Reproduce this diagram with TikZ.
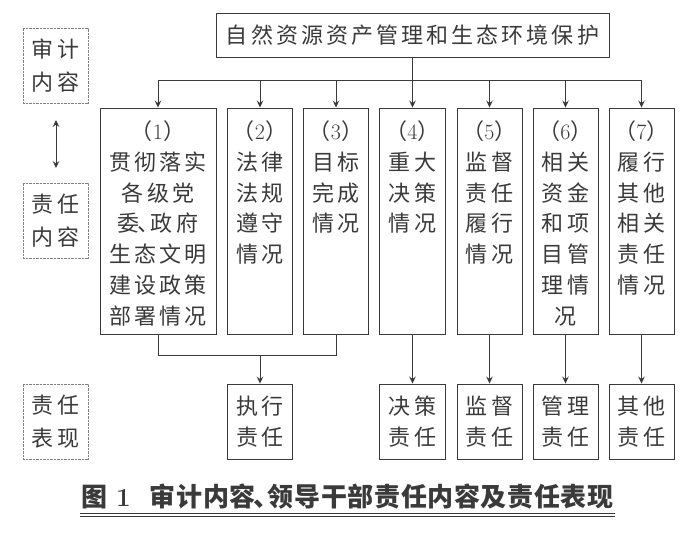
\documentclass[tikz,border=0pt]{standalone}
\usepackage{fontspec}
\newfontfamily\cjk[LetterSpace=14]{Noto Sans CJK SC}
\newfontfamily\cjkcap[LetterSpace=2.5]{Noto Sans CJK SC}
\usetikzlibrary{arrows.meta}
\definecolor{ink}{HTML}{3A3A3A}
\begin{document}
\begin{tikzpicture}[x=1pt,y=-1pt,
  box/.style={draw=ink, line width=0.9pt, inner sep=0pt},
  txt/.style={text=ink, font=\cjk\fontsize{22}{30.8}\selectfont, align=center, inner sep=0pt},
  lab/.style={draw=gray, dash pattern=on 0.7pt off 0.7pt, line width=0.8pt, minimum width=65pt, minimum height=75pt, inner sep=0pt, text=ink, font=\cjk\fontsize{22}{33}\selectfont, align=center},
  tip/.tip={Stealth[length=7pt,width=6.5pt,inset=2.5pt]},
  arr/.style={draw=ink, line width=0.9pt, -tip},
  ln/.style={draw=ink, line width=0.9pt}]
\fill[white] (0,0) rectangle (700,532);
\useasboundingbox (0,0) rectangle (700,532);

% top box
\node[box, txt, minimum width=393pt, minimum height=44pt] (top) at (412.5,35) {自然资源资产管理和生态环境保护};

% content boxes
\node[box, minimum width=116pt, minimum height=226pt] (b1) at (158,221) {};
\node[box, minimum width=65pt, minimum height=226pt] (b2) at (260,221) {};
\node[box, minimum width=65pt, minimum height=226pt] (b3) at (336,221) {};
\node[box, minimum width=66pt, minimum height=226pt] (b4) at (412.5,221) {};
\node[box, minimum width=65pt, minimum height=226pt] (b5) at (489.5,221) {};
\node[box, minimum width=65pt, minimum height=226pt] (b6) at (565.5,221) {};
\node[box, minimum width=65pt, minimum height=226pt] (b7) at (641.5,221) {};

\node[txt, anchor=north] (t1) at ([yshift=-13pt]b1.north) {（{\rmfamily 1}）\\贯彻落实\\各级党\\委\kern-2pt、\kern-9pt政府\\生态文明\\建设政策\\部署情况};
\node[txt, anchor=north] (t2) at ([yshift=-13pt]b2.north) {（{\rmfamily 2}）\\法律\\法规\\遵守\\情况};
\node[txt, anchor=north] (t3) at ([yshift=-13pt]b3.north) {（{\rmfamily 3}）\\目标\\完成\\情况};
\node[txt, anchor=north] (t4) at ([yshift=-13pt]b4.north) {（{\rmfamily 4}）\\重大\\决策\\情况};
\node[txt, anchor=north] (t5) at ([yshift=-13pt]b5.north) {（{\rmfamily 5}）\\监督\\责任\\履行\\情况};
\node[txt, anchor=north] (t6) at ([yshift=-13pt]b6.north) {（{\rmfamily 6}）\\相关\\资金\\和项\\目管\\理情\\况};
\node[txt, anchor=north] (t7) at ([yshift=-13pt]b7.north) {（{\rmfamily 7}）\\履行\\其他\\相关\\责任\\情况};

% result boxes
\node[box, txt, minimum width=65pt, minimum height=75pt] (r2) at (260,421.5) {执行\\责任};
\node[box, txt, minimum width=66pt, minimum height=75pt] (r4) at (412.5,421.5) {决策\\责任};
\node[box, txt, minimum width=65pt, minimum height=75pt] (r5) at (489.5,421.5) {监督\\责任};
\node[box, txt, minimum width=65pt, minimum height=75pt] (r6) at (565.5,421.5) {管理\\责任};
\node[box, txt, minimum width=65pt, minimum height=75pt] (r7) at (641.5,421.5) {其他\\责任};

% left labels
\node[lab] (L1) at (55.5,65.5) {审计\\内容};
\node[lab] (L2) at (55.5,220.5) {责任\\内容};
\node[lab] (L3) at (55.5,421.5) {责任\\表现};
\coordinate (da) at (56,120);
\coordinate (db) at (56,168);
\draw[ln, tip-tip] (da) -- (db);

% bus from top
\coordinate (bus) at (412.5,80);
\draw[ln] (b1.north |- bus) -- (b7.north |- bus);
\draw[arr] (top.south) -- (b4.north);
\foreach \b in {b1,b2,b3,b5,b6,b7} \draw[arr] (\b.north |- bus) -- (\b.north);

% bottom connectors
\coordinate (j) at (260,355);
\draw[ln] (b1.south) -- (b1.south |- j) -- (b3.south |- j) -- (b3.south);
\draw[arr] (j) -- (r2.north);
\draw[arr] (b4.south) -- (r4.north);
\draw[arr] (b5.south) -- (r5.north);
\draw[arr] (b6.south) -- (r6.north);
\draw[arr] (b7.south) -- (r7.north);

% caption
\node[anchor=west, text=ink, font=\cjkcap\bfseries\fontsize{26}{26}\selectfont, inner sep=0pt] (cap) at (81,497) {图\hspace{9pt}{\rmfamily\bfseries 1}\hspace{19pt}审计内容\kern-2pt、\kern-12pt领导干部责任内容及责任表现};
\draw[ln] (80,513) -- (615,513);
\draw[ln] (80,516.5) -- (615,516.5);
\end{tikzpicture}
\end{document}
